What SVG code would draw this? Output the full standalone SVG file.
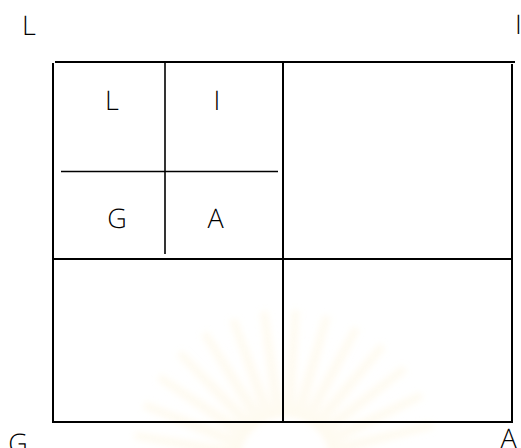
<svg xmlns="http://www.w3.org/2000/svg" width="521" height="448" viewBox="0 0 521 448">
<style>
.ln{stroke:#000;stroke-width:2;fill:none}
.ln2{stroke:#000;stroke-width:1.6;fill:none}
.t{font-family:"Open Sans","Liberation Sans",Arial,sans-serif;font-weight:300;font-size:27px;fill:#000;text-anchor:middle;text-rendering:geometricPrecision}
.ray{fill:#fbf1d0;opacity:0.3}
</style>
<defs>
<filter id="blur" x="-20%" y="-20%" width="140%" height="140%"><feGaussianBlur stdDeviation="3"/></filter>
</defs>
<rect width="521" height="448" fill="#fff"/>
<g id="watermark" filter="url(#blur)">
<g transform="translate(285,462)">
<polygon class="ray" points="-6,-45 6,-45 4,-152 -4,-152" transform="rotate(-80)"/>
<polygon class="ray" points="-6,-45 6,-45 4,-152 -4,-152" transform="rotate(-68)"/>
<polygon class="ray" points="-6,-45 6,-45 4,-152 -4,-152" transform="rotate(-56)"/>
<polygon class="ray" points="-6,-45 6,-45 4,-152 -4,-152" transform="rotate(-44)"/>
<polygon class="ray" points="-6,-45 6,-45 4,-152 -4,-152" transform="rotate(-32)"/>
<polygon class="ray" points="-6,-45 6,-45 4,-152 -4,-152" transform="rotate(-20)"/>
<polygon class="ray" points="-6,-45 6,-45 4,-152 -4,-152" transform="rotate(-8)"/>
<polygon class="ray" points="-6,-45 6,-45 4,-152 -4,-152" transform="rotate(4)"/>
<polygon class="ray" points="-6,-45 6,-45 4,-152 -4,-152" transform="rotate(16)"/>
<polygon class="ray" points="-6,-45 6,-45 4,-152 -4,-152" transform="rotate(28)"/>
<polygon class="ray" points="-6,-45 6,-45 4,-152 -4,-152" transform="rotate(40)"/>
<polygon class="ray" points="-6,-45 6,-45 4,-152 -4,-152" transform="rotate(52)"/>
<polygon class="ray" points="-6,-45 6,-45 4,-152 -4,-152" transform="rotate(64)"/>
<polygon class="ray" points="-6,-45 6,-45 4,-152 -4,-152" transform="rotate(76)"/>
</g>
</g>
<g id="connectors">
<line class="ln" x1="55" y1="62" x2="515" y2="62"/>
<line class="ln" x1="53" y1="63" x2="53" y2="423"/>
<line class="ln" x1="53" y1="422" x2="513" y2="422"/>
<line class="ln" x1="512" y1="64" x2="512" y2="423"/>
<line class="ln" x1="283" y1="62" x2="283" y2="422"/>
<line class="ln" x1="53" y1="259" x2="512" y2="259"/>
<line class="ln2" x1="165" y1="62" x2="165" y2="254"/>
<line class="ln2" x1="61" y1="171.5" x2="278" y2="171.5"/>
</g>
<g id="label-L-outer"><text class="t" x="29" y="35">L</text></g>
<g id="label-I-outer"><text class="t" x="518.5" y="34">I</text></g>
<g id="label-L-inner"><text class="t" x="112" y="110">L</text></g>
<g id="label-I-inner"><text class="t" x="217" y="110">I</text></g>
<g id="label-G-inner"><text class="t" x="117" y="228">G</text></g>
<g id="label-A-inner"><text class="t" x="215.5" y="228">A</text></g>
<g id="label-G-outer"><text class="t" x="18" y="453">G</text></g>
<g id="label-A-outer"><text class="t" x="508.5" y="448">A</text></g>
</svg>
